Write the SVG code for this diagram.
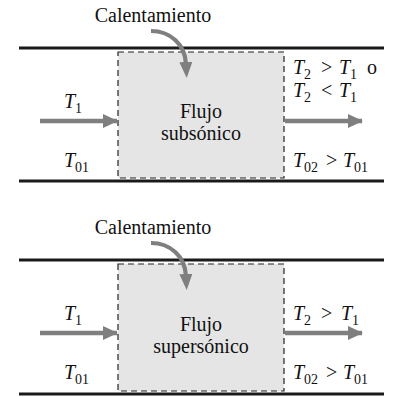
<svg xmlns="http://www.w3.org/2000/svg" width="396" height="397" viewBox="0 0 396 397">
<style>
.it{font-style:italic}
.sub{font-size:14px;font-style:normal}
.wall{stroke:#1a1a1a;stroke-width:3;fill:none}
.box{fill:#e5e5e5;stroke:#222;stroke-width:1.2;stroke-dasharray:6,4}
.flow{stroke:#7f7f7f;stroke-width:4.5;fill:none}
.heat{stroke:#7f7f7f;stroke-width:4.2;fill:none}
</style>
<defs>
<marker id="ah" markerUnits="userSpaceOnUse" markerWidth="16" markerHeight="14" refX="14" refY="7" orient="auto">
<path d="M0,0 L15,7 L0,14 Z" fill="#7f7f7f"/>
</marker>
<marker id="ahc" markerUnits="userSpaceOnUse" markerWidth="17" markerHeight="14" refX="2" refY="6.5" orient="auto">
<path d="M0,0 L16,6.5 L0,13 Z" fill="#7f7f7f"/>
</marker>
</defs>

<g font-family="Liberation Serif" font-size="20" fill="#111">
<g id="panel1">
<g id="walls1">
<line class="wall" x1="19" y1="48" x2="384" y2="48"/>
<line class="wall" x1="19" y1="181" x2="384" y2="181"/>
</g>
<g id="box1">
<rect class="box" x="118" y="52" width="166" height="126"/>
<text x="201" y="118" text-anchor="middle" font-family="Liberation Serif">Flujo</text>
<text x="201" y="140" text-anchor="middle" font-family="Liberation Serif">subsónico</text>
</g>
<g id="heat1">
<text x="153" y="22" text-anchor="middle" font-family="Liberation Serif">Calentamiento</text>
</g>
<g id="in1">
<text x="64" y="108" font-family="Liberation Serif"><tspan class="it">T</tspan><tspan class="sub" x="75" dy="5">1</tspan></text>
<text x="64" y="167" font-family="Liberation Serif"><tspan class="it">T</tspan><tspan class="sub" x="75" dy="5">01</tspan></text>
</g>
<g id="out1">
<text x="293" y="74" font-family="Liberation Serif"><tspan class="it">T</tspan><tspan class="sub" x="304" dy="5">2</tspan><tspan x="321" dy="-5">&gt;</tspan><tspan class="it" x="339">T</tspan><tspan class="sub" x="350" dy="5">1</tspan><tspan x="367" dy="-5">o</tspan></text>
<text x="293" y="97" font-family="Liberation Serif"><tspan class="it">T</tspan><tspan class="sub" x="304" dy="5">2</tspan><tspan x="321" dy="-5">&lt;</tspan><tspan class="it" x="339">T</tspan><tspan class="sub" x="350" dy="5">1</tspan></text>
<text x="293" y="167" font-family="Liberation Serif"><tspan class="it">T</tspan><tspan class="sub" x="304" dy="5">02</tspan><tspan x="326" dy="-5">&gt;</tspan><tspan class="it" x="343">T</tspan><tspan class="sub" x="354" dy="5">01</tspan></text>
</g>
</g>

<g id="panel2">
<g id="walls2">
<line class="wall" x1="19" y1="260" x2="384" y2="260"/>
<line class="wall" x1="19" y1="394" x2="384" y2="394"/>
</g>
<g id="box2">
<rect class="box" x="118" y="264" width="166" height="127"/>
<text x="201" y="331" text-anchor="middle" font-family="Liberation Serif">Flujo</text>
<text x="201" y="353" text-anchor="middle" font-family="Liberation Serif">supersónico</text>
</g>
<g id="heat2">
<text x="153" y="234" text-anchor="middle" font-family="Liberation Serif">Calentamiento</text>
</g>
<g id="in2">
<text x="64" y="320" font-family="Liberation Serif"><tspan class="it">T</tspan><tspan class="sub" x="75" dy="5">1</tspan></text>
<text x="64" y="379" font-family="Liberation Serif"><tspan class="it">T</tspan><tspan class="sub" x="75" dy="5">01</tspan></text>
</g>
<g id="out2">
<text x="293" y="320" font-family="Liberation Serif"><tspan class="it">T</tspan><tspan class="sub" x="304" dy="5">2</tspan><tspan x="321" dy="-5">&gt;</tspan><tspan class="it" x="341">T</tspan><tspan class="sub" x="352" dy="5">1</tspan></text>
<text x="293" y="379" font-family="Liberation Serif"><tspan class="it">T</tspan><tspan class="sub" x="304" dy="5">02</tspan><tspan x="326" dy="-5">&gt;</tspan><tspan class="it" x="343">T</tspan><tspan class="sub" x="354" dy="5">01</tspan></text>
</g>
</g>
</g>

<g id="connectors">
<path class="heat" d="M151,31 C170,31 185,44 186,64" marker-end="url(#ahc)"/>
<line class="flow" x1="40" y1="121" x2="117" y2="121" marker-end="url(#ah)"/>
<line class="flow" x1="285" y1="121" x2="362" y2="121" marker-end="url(#ah)"/>
<path class="heat" d="M151,243 C170,243 185,256 186,276" marker-end="url(#ahc)"/>
<line class="flow" x1="40" y1="333" x2="117" y2="333" marker-end="url(#ah)"/>
<line class="flow" x1="285" y1="333" x2="362" y2="333" marker-end="url(#ah)"/>
</g>
</svg>
